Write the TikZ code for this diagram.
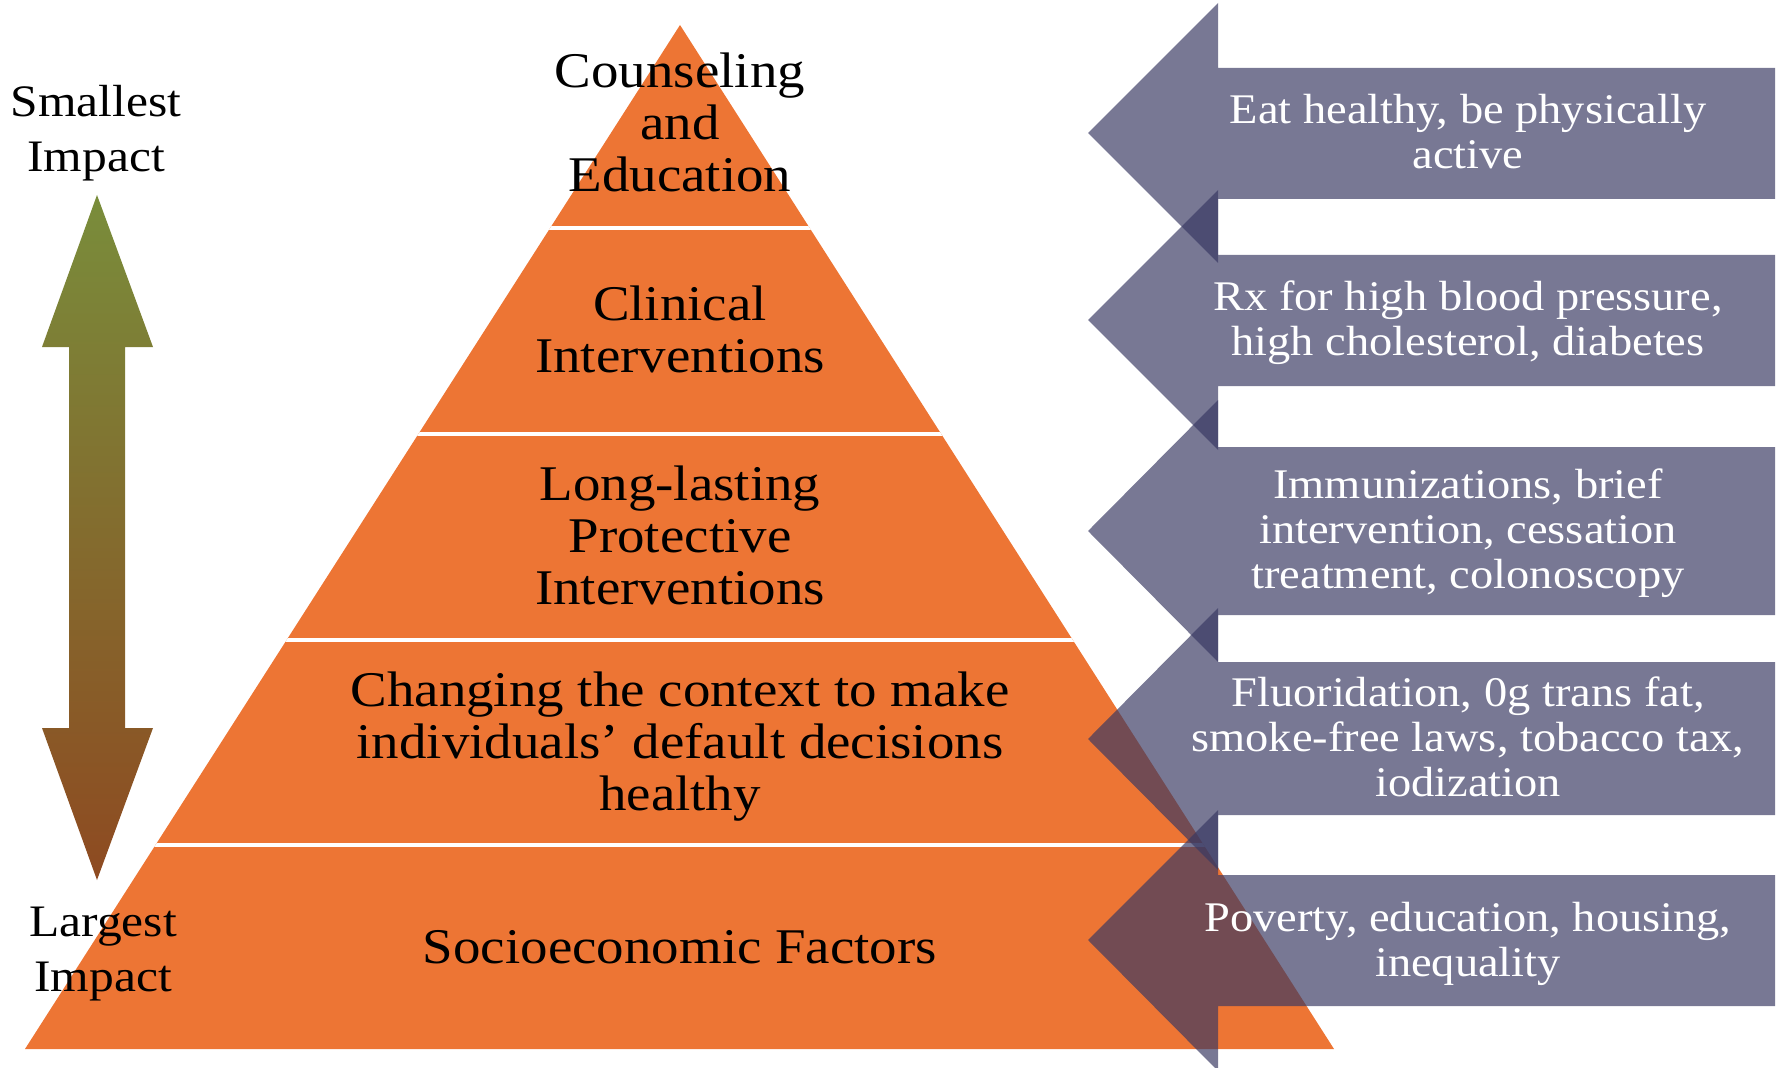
\documentclass[tikz,border=0pt]{standalone}
\usepackage{fontspec}
\setmainfont{Liberation Serif}[FakeStretch=1.1]
\usepackage{tikz}
\definecolor{pyramidorange}{RGB}{237,117,52}
\definecolor{hintpurple}{RGB}{56,56,98}
\definecolor{impactgreen}{RGB}{121,141,59}
\definecolor{impactbrown}{RGB}{142,74,33}
\tikzstyle{hint} = [fill=hintpurple,fill opacity=0.68,draw=none]

\begin{document}
\begin{tikzpicture}[x=0.01cm,y=-0.01cm]
                \tikzstyle{tier}=[fill=pyramidorange,draw=none]
                \tikzstyle{tiertext}=[align=center,font=\fontsize{14.2}{14.8}\selectfont]
                \tikzstyle{hinttext}=[align=center,text=white,font=\fontsize{12}{12.8}\selectfont]
                \tikzstyle{impacttext}=[align=center,font=\fontsize{12.8}{15.6}\selectfont]

                \useasboundingbox (0,0) rectangle (1777,1067);

                \fill [tier] (680,25) -- (1334,1049) -- (25,1049) -- cycle;
                \begin{scope}
                    \clip (680,25) -- (1334,1049) -- (25,1049) -- cycle;
                    \draw [white,line width=0.045cm] (0,228) -- (1777,228);
                    \draw [white,line width=0.045cm] (0,434) -- (1777,434);
                    \draw [white,line width=0.045cm] (0,640) -- (1777,640);
                    \draw [white,line width=0.045cm] (0,845) -- (1777,845);
                \end{scope}

                \shade [
                    top color=impactgreen,
                    bottom color=impactbrown
                ] (97,195) -- (153,347) -- (125,347) -- (125,728) -- (153,728)
                  -- (97,880) -- (42,728) -- (69,728) -- (69,347) -- (42,347) -- cycle;

                \fill [hint] (1088,133) -- (1218,3) -- (1218,68) -- (1775,68)
                  -- (1775,199) -- (1218,199) -- (1218,263) -- cycle;
                \fill [hint] (1088,320) -- (1218,190) -- (1218,255) -- (1775,255)
                  -- (1775,386) -- (1218,386) -- (1218,450) -- cycle;
                \fill [hint] (1088,531) -- (1218,400) -- (1218,447) -- (1775,447)
                  -- (1775,615) -- (1218,615) -- (1218,662) -- cycle;
                \fill [hint] (1088,739) -- (1218,608) -- (1218,662) -- (1775,662)
                  -- (1775,815) -- (1218,815) -- (1218,870) -- cycle;
                \fill [hint] (1088,940) -- (1218,810) -- (1218,875) -- (1775,875)
                  -- (1775,1006) -- (1218,1006) -- (1218,1071) -- cycle;

                \node [tiertext] (tier1) at (680,122) {Counseling\\and\\Education};
                \node [tiertext] (tier2) at (680,329) {Clinical\\Interventions};
                \node [tiertext] (tier3) at (680,535) {Long-lasting\\Protective\\Interventions};
                \node [tiertext] (tier4) at (680,747) {Changing the context to make\\individuals’ default decisions\\healthy};
                \node [tiertext] (tier5) at (680,947) {Socioeconomic Factors};

                \node [impacttext] (smallest) at (96,133) {Smallest\\Impact};
                \node [impacttext] (largest) at (103,954) {Largest\\Impact};

                \node [hinttext] (hint1) at (1468,132) {Eat healthy, be physically\\active};
                \node [hinttext] (hint2) at (1468,323) {Rx for high blood pressure,\\high cholesterol, diabetes};
                \node [hinttext] (hint3) at (1468,533) {Immunizations, brief\\intervention, cessation\\treatment, colonoscopy};
                \node [hinttext] (hint4) at (1468,737) {Fluoridation, 0g trans fat,\\smoke-free laws, tobacco tax,\\iodization};
                \node [hinttext] (hint5) at (1468,944) {Poverty, education, housing,\\inequality};
            \end{tikzpicture}
\end{document}
